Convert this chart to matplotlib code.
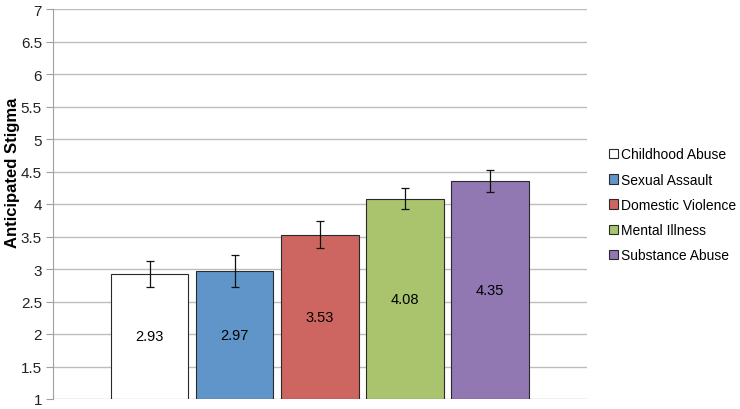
import matplotlib
matplotlib.use("Agg")
import matplotlib.pyplot as plt
from matplotlib.patches import Patch

plt.rcParams['font.family'] = ['Liberation Sans', 'DejaVu Sans']

categories = ["Childhood Abuse", "Sexual Assault", "Domestic Violence", "Mental Illness", "Substance Abuse"]
values = [2.93, 2.97, 3.53, 4.08, 4.35]
errors = [0.20, 0.25, 0.21, 0.16, 0.17]
labels = ["2.93", "2.97", "3.53", "4.08", "4.35"]
colors = ["#ffffff", "#5f95c9", "#cd6660", "#a9c46c", "#9178b2"]
yticks = [1, 1.5, 2, 2.5, 3, 3.5, 4, 4.5, 5, 5.5, 6, 6.5, 7]
ytick_labels = ["1", "1.5", "2", "2.5", "3", "3.5", "4", "4.5", "5", "5.5", "6", "6.5", "7"]

fig = plt.figure(figsize=(7.4, 4.1), dpi=100)
ax = fig.add_axes([53/740, 1 - 400/410, (587-53)/740, 390/410])

x = list(range(len(values)))
base = 1.0
heights = [v - base for v in values]
ax.bar(x, heights, bottom=base, width=0.911, color=colors, edgecolor="#2a2a2a", linewidth=0.8, zorder=3)
ax.errorbar(x, values, yerr=errors, fmt='none', ecolor="#111111", elinewidth=0.9, capsize=2.6, capthick=0.9, zorder=4)
for xi, v, lab in zip(x, values, labels):
    ax.text(xi, (base + v) / 2, lab, ha='center', va='center', fontsize=10.5, color='black', zorder=5)

ax.set_xlim(-1.134, 5.14)
ax.set_ylim(1, 7)
ax.set_yticks(yticks)
ax.set_yticklabels(ytick_labels, fontsize=11, color="#222222")
ax.set_xticks([])
ax.yaxis.grid(True, color="#bdbdbd", linewidth=1.0, zorder=0)
ax.set_axisbelow(True)
for s in ['top', 'right', 'bottom']:
    ax.spines[s].set_visible(False)
ax.spines['left'].set_color("#a0a0a0")
ax.tick_params(axis='y', length=5, color="#a0a0a0", pad=3)
ax.set_ylabel("Anticipated Stigma", fontsize=12, fontweight='bold')
ax.yaxis.set_label_coords(-(53 - 20) / 534, (400 - 172.5) / 390)

handles = [Patch(facecolor=c, edgecolor="#2a2a2a", linewidth=0.8) for c in colors]
fig.legend(handles, categories, loc='center left', bbox_to_anchor=(609/740, 1 - 206/410),
           frameon=False, fontsize=10, handlelength=0.65, handleheight=0.65, handletextpad=0.2,
           labelspacing=0.81, borderaxespad=0, borderpad=0)

fig.savefig("out.png", dpi=100)
